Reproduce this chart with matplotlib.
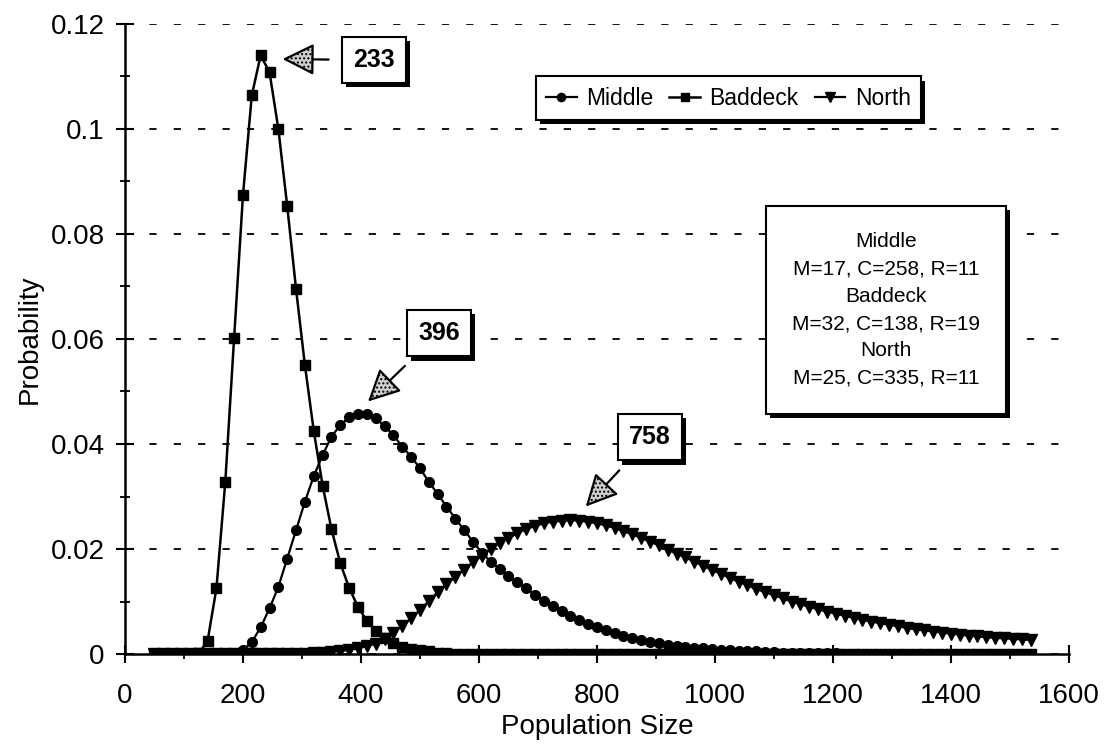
import numpy as np
import matplotlib
matplotlib.use("Agg")
import matplotlib.pyplot as plt
import matplotlib.patheffects as pe
from matplotlib.ticker import MultipleLocator, FuncFormatter

plt.rcParams['font.family'] = ['Liberation Sans', 'DejaVu Sans']

# population sizes (x) shared by the three series
pop = [50, 65, 80, 95, 110, 125, 140, 155, 170, 185,
       200, 215, 230, 245, 260, 275, 290, 305, 320, 335,
       350, 365, 380, 395, 410, 425, 440, 455, 470, 485,
       500, 515, 530, 545, 560, 575, 590, 605, 620, 635,
       650, 665, 680, 695, 710, 725, 740, 755, 770, 785,
       800, 815, 830, 845, 860, 875, 890, 905, 920, 935,
       950, 965, 980, 995, 1010, 1025, 1040, 1055, 1070, 1085,
       1100, 1115, 1130, 1145, 1160, 1175, 1190, 1205, 1220, 1235,
       1250, 1265, 1280, 1295, 1310, 1325, 1340, 1355, 1370, 1385,
       1400, 1415, 1430, 1445, 1460, 1475, 1490, 1505, 1520, 1535]

middle = [0, 0, 0, 0, 0, 0, 0, 0, 0, 0.0002,
          0.0008, 0.0023, 0.0051, 0.0087, 0.0128, 0.0182, 0.0236, 0.0290, 0.0339, 0.0379,
          0.0414, 0.0436, 0.0451, 0.0458, 0.0457, 0.0449, 0.0434, 0.0417, 0.0395, 0.0376,
          0.0354, 0.0328, 0.0305, 0.0281, 0.0258, 0.0236, 0.0214, 0.0193, 0.0176, 0.0162,
          0.0149, 0.0137, 0.0125, 0.0113, 0.0102, 0.0092, 0.0082, 0.0073, 0.0065, 0.0058,
          0.0051, 0.0045, 0.0040, 0.0035, 0.0031, 0.0027, 0.0024, 0.0021, 0.0018, 0.0016,
          0.0014, 0.0012, 0.0011, 0.0009, 0.0008, 0.0007, 0.0006, 0.0005, 0.0005, 0.0004,
          0.0004, 0.0003, 0.0003, 0.0003, 0.0002, 0.0002, 0.0002, 0.0002, 0.0001, 0.0001,
          0.0001, 0.0001, 0.0001, 0.0001, 0.0001, 0.0001, 0.0001, 0.0001, 0.0001, 0.0001,
          0.0001, 0.0001, 0.0001, 0.0001, 0.0001, 0, 0, 0, 0, 0]

baddeck = [0, 0, 0, 0, 0, 0.0002, 0.0025, 0.0125, 0.0327, 0.0602,
           0.0874, 0.1064, 0.1140, 0.1108, 0.1000, 0.0853, 0.0695, 0.0550, 0.0425, 0.0321,
           0.0238, 0.0173, 0.0126, 0.0090, 0.0063, 0.0044, 0.0030, 0.0021, 0.0014, 0.0010,
           0.0007, 0.0005, 0.0003, 0.0002, 0.0001, 0.0001, 0, 0, 0, 0,
           0, 0, 0, 0, 0, 0, 0, 0, 0, 0,
           0, 0, 0, 0, 0, 0, 0, 0, 0, 0,
           0, 0, 0, 0, 0, 0, 0, 0, 0, 0,
           0, 0, 0, 0, 0, 0, 0, 0, 0, 0,
           0, 0, 0, 0, 0, 0, 0, 0, 0, 0,
           0, 0, 0, 0, 0, 0, 0, 0, 0, 0]

north = [0, 0, 0, 0, 0, 0, 0, 0, 0, 0,
         0, 0, 0, 0, 0, 0, 0, 0.0001, 0.0002, 0.0003,
         0.0004, 0.0006, 0.0008, 0.0011, 0.0015, 0.0020, 0.0028, 0.0040, 0.0054, 0.0068,
         0.0084, 0.0101, 0.0118, 0.0133, 0.0147, 0.0161, 0.0175, 0.0187, 0.0200, 0.0211,
         0.0221, 0.0230, 0.0238, 0.0244, 0.0249, 0.0252, 0.0254, 0.0255, 0.0254, 0.0252,
         0.0249, 0.0245, 0.0240, 0.0234, 0.0228, 0.0221, 0.0214, 0.0207, 0.0199, 0.0191,
         0.0184, 0.0176, 0.0168, 0.0160, 0.0153, 0.0145, 0.0138, 0.0131, 0.0124, 0.0118,
         0.0112, 0.0106, 0.0100, 0.0095, 0.0090, 0.0085, 0.0081, 0.0077, 0.0073, 0.0069,
         0.0065, 0.0062, 0.0059, 0.0056, 0.0053, 0.0050, 0.0047, 0.0045, 0.0043, 0.0041,
         0.0039, 0.0037, 0.0035, 0.0034, 0.0032, 0.0031, 0.0030, 0.0029, 0.0028, 0.0027]

# peak labels: (text, arrow tip x, tip y, box x, box y)
peaks = [("233", 267, 0.1133, 422, 0.1131),
         ("396", 412, 0.0481, 532, 0.0611),
         ("758", 781, 0.0281, 890, 0.0413)]

info_text = ("Middle\nM=17, C=258, R=11\nBaddeck\nM=32, C=138, R=19\n"
             "North\nM=25, C=335, R=11")

shadow = [pe.SimplePatchShadow(offset=(3, -3), shadow_rgbFace='k', alpha=1.0), pe.Normal()]

fig = plt.figure(figsize=(11.04, 7.45), dpi=100)
ax = fig.add_axes([0.1132, 0.122, 0.855, 0.846])

ax.plot(pop, middle, 'k-', marker='o', markersize=7, lw=1.6, label="Middle")
ax.plot(pop, baddeck, 'k-', marker='s', markersize=7, lw=1.8, label="Baddeck")
ax.plot(pop, north, 'k-', marker='v', markersize=9, lw=1.6, label="North")

ax.set_xlim(0, 1600)
ax.set_ylim(0, 0.12)
ax.xaxis.set_major_locator(MultipleLocator(200))
ax.xaxis.set_minor_locator(MultipleLocator(100))
ax.yaxis.set_major_locator(MultipleLocator(0.02))
ax.yaxis.set_minor_locator(MultipleLocator(0.01))
ax.yaxis.set_major_formatter(FuncFormatter(lambda v, p: "%g" % round(v, 2)))
ax.tick_params(which='major', direction='inout', length=13, width=1.5, labelsize=20)
ax.tick_params(axis='x', which='major', pad=14)
ax.tick_params(axis='y', which='major', pad=8)
ax.tick_params(which='minor', direction='inout', length=7, width=1.3)
for s in ['top', 'right']:
    ax.spines[s].set_visible(False)
for s in ['left', 'bottom']:
    ax.spines[s].set_linewidth(1.8)
ax.grid(axis='y', which='major', color='k', ls=(0, (4, 9.5)), lw=1.3)

ax.set_xlabel("Population Size", fontsize=20, labelpad=4)
ax.set_ylabel("Probability", fontsize=20, labelpad=6)

leg = ax.legend(loc='center left', bbox_to_anchor=(0.435, 0.882), ncol=3, fontsize=16.5,
                frameon=True, fancybox=False, edgecolor='k', facecolor='white',
                framealpha=1.0, handlelength=1.35, handletextpad=0.4,
                columnspacing=0.7, borderpad=0.45, borderaxespad=0, markerscale=0.85)
leg.get_frame().set_linewidth(1.5)
leg.get_frame().set_path_effects(shadow)

for lab, tx, ty, bx, by in peaks:
    ann = ax.annotate(lab, xy=(tx, ty), xytext=(bx, by), fontsize=18, fontweight='bold',
                      ha='center', va='center',
                      bbox=dict(boxstyle='square,pad=0.45', fc='white', ec='k', lw=1.5),
                      arrowprops=dict(arrowstyle='-|>,head_length=1.1,head_width=0.55',
                                      fc='#cfcfcf', ec='k', lw=1.6, hatch='....',
                                      shrinkA=9, shrinkB=0))
    ann.get_bbox_patch().set_path_effects(shadow)

t = ax.text(0.806, 0.546, info_text, transform=ax.transAxes, ha='center', va='center',
            fontsize=15, linespacing=1.55,
            bbox=dict(boxstyle='square,pad=1.25', fc='white', ec='k', lw=1.5))
t.get_bbox_patch().set_path_effects(shadow)

fig.savefig("out.png", dpi=100)
